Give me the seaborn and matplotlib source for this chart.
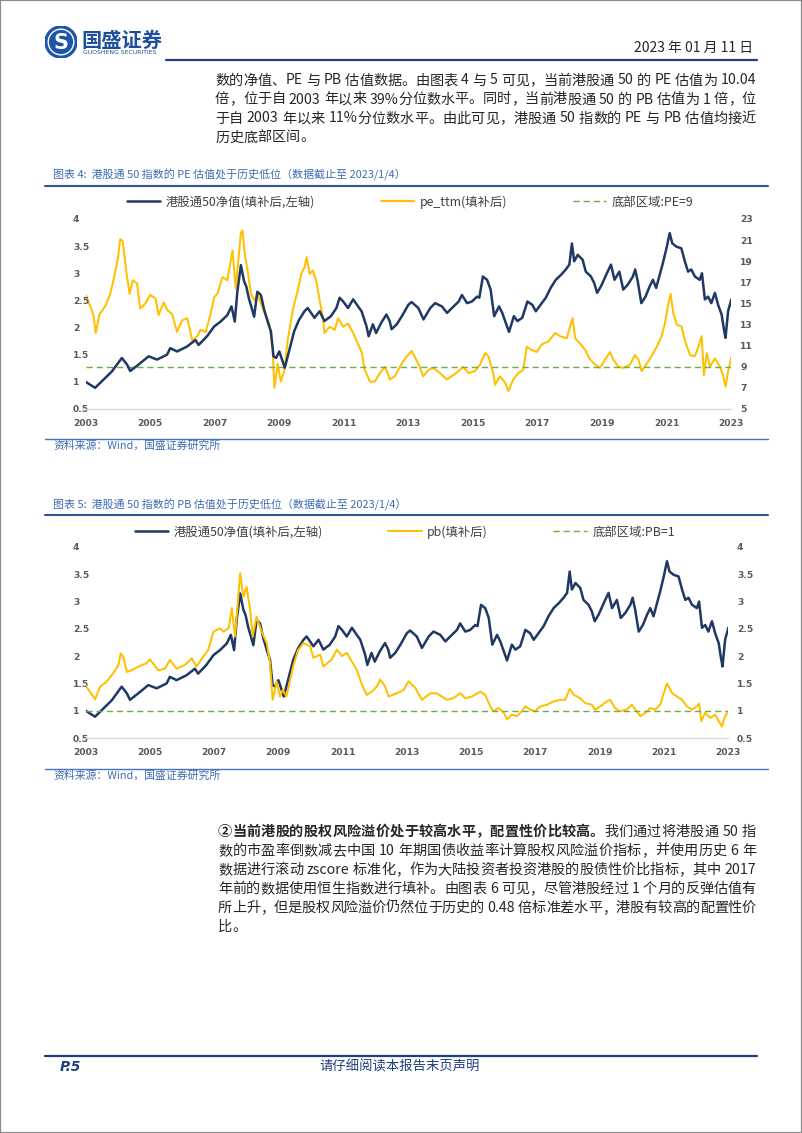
import numpy as np
import pandas as pd
import matplotlib
matplotlib.use('Agg')
import matplotlib.pyplot as plt
import seaborn as sns
from matplotlib.patches import Circle, Rectangle
from matplotlib.lines import Line2D

# 港股通50净值(填补后)  (year, value)
nav = [(2003.0, 1.0), (2003.29, 0.89), (2003.55, 1.04), (2003.81, 1.19), (2004.12, 1.44), (2004.28, 1.32),
       (2004.38, 1.2), (2004.64, 1.32), (2004.95, 1.47), (2005.21, 1.41), (2005.52, 1.5), (2005.62, 1.62),
       (2005.83, 1.56), (2006.14, 1.65), (2006.4, 1.77), (2006.5, 1.68), (2006.76, 1.84), (2006.98, 2.02),
       (2007.18, 2.11), (2007.39, 2.23), (2007.52, 2.39), (2007.62, 2.11), (2007.7, 2.66), (2007.81, 3.15),
       (2007.91, 2.85), (2007.98, 2.75), (2008.06, 2.53), (2008.13, 2.39), (2008.22, 2.2), (2008.32, 2.66),
       (2008.43, 2.6), (2008.53, 2.33), (2008.64, 2.11), (2008.74, 1.93), (2008.82, 1.47), (2008.9, 1.44),
       (2009.0, 1.56), (2009.1, 1.38), (2009.17, 1.26), (2009.3, 1.56), (2009.46, 1.93), (2009.61, 2.14),
       (2009.78, 2.3), (2009.88, 2.36), (2010.09, 2.18), (2010.25, 2.3), (2010.4, 2.12), (2010.6, 2.21),
       (2010.77, 2.36), (2010.87, 2.55), (2010.98, 2.48), (2011.13, 2.36), (2011.29, 2.52), (2011.44, 2.39),
       (2011.55, 2.3), (2011.7, 2.03), (2011.77, 1.84), (2011.9, 2.06), (2012.0, 1.9), (2012.16, 2.09),
       (2012.32, 2.24), (2012.42, 2.12), (2012.48, 1.97), (2012.64, 2.06), (2012.8, 2.21), (2013.0, 2.42),
       (2013.1, 2.47), (2013.31, 2.36), (2013.47, 2.15), (2013.68, 2.36), (2013.83, 2.45), (2014.04, 2.39),
       (2014.2, 2.27), (2014.35, 2.36), (2014.56, 2.48), (2014.66, 2.6), (2014.82, 2.45), (2014.97, 2.48),
       (2015.13, 2.57), (2015.2, 2.55), (2015.31, 2.94), (2015.44, 2.88), (2015.55, 2.7), (2015.66, 2.21),
       (2015.81, 2.39), (2015.91, 2.27), (2016.07, 2.0), (2016.12, 1.92), (2016.27, 2.21), (2016.38, 2.12),
       (2016.53, 2.18), (2016.69, 2.48), (2016.84, 2.42), (2016.95, 2.3), (2017.1, 2.42), (2017.26, 2.55),
       (2017.41, 2.73), (2017.57, 2.88), (2017.73, 2.97), (2017.88, 3.07), (2017.99, 3.16), (2018.07, 3.55),
       (2018.14, 3.22), (2018.25, 3.34), (2018.4, 3.25), (2018.5, 3.03), (2018.66, 2.94), (2018.76, 2.82),
       (2018.85, 2.64), (2018.97, 2.76), (2019.13, 2.97), (2019.28, 3.16), (2019.39, 2.88), (2019.54, 3.03),
       (2019.66, 2.7), (2019.8, 2.79), (2019.96, 2.94), (2020.03, 3.07), (2020.11, 2.85), (2020.22, 2.45),
       (2020.35, 2.57), (2020.48, 2.76), (2020.58, 2.88), (2020.68, 2.73), (2020.79, 2.97), (2020.89, 3.19),
       (2021.0, 3.46), (2021.1, 3.74), (2021.18, 3.55), (2021.31, 3.49), (2021.46, 3.46), (2021.57, 3.22),
       (2021.67, 3.03), (2021.77, 3.07), (2021.88, 2.94), (2022.03, 2.88), (2022.1, 3.0), (2022.19, 2.52),
       (2022.29, 2.57), (2022.39, 2.45), (2022.5, 2.64), (2022.6, 2.42), (2022.71, 2.24), (2022.78, 1.97),
       (2022.83, 1.81), (2022.91, 2.3), (2023.01, 2.52)]

# pe_ttm(填补后)
pe = [(2003.0, 15.8), (2003.13, 14.8), (2003.24, 13.9), (2003.31, 12.2), (2003.43, 14.0), (2003.6, 14.7),
      (2003.76, 15.9), (2003.86, 17.2), (2003.99, 19.1), (2004.07, 21.1), (2004.15, 20.9), (2004.26, 18.0),
      (2004.36, 15.9), (2004.46, 17.2), (2004.59, 16.9), (2004.69, 14.5), (2004.85, 15.0), (2005.0, 15.8),
      (2005.16, 15.5), (2005.26, 13.9), (2005.42, 15.1), (2005.52, 14.4), (2005.68, 14.0), (2005.83, 12.3),
      (2005.99, 13.4), (2006.15, 13.6), (2006.3, 11.5), (2006.46, 11.9), (2006.56, 12.5), (2006.72, 12.3),
      (2006.87, 14.0), (2006.98, 15.6), (2007.08, 15.9), (2007.24, 17.5), (2007.39, 17.2), (2007.55, 20.0),
      (2007.65, 16.4), (2007.81, 21.7), (2007.86, 21.9), (2007.93, 19.7), (2008.02, 18.1), (2008.12, 15.9),
      (2008.22, 15.3), (2008.33, 15.9), (2008.43, 15.0), (2008.56, 14.0), (2008.69, 13.1), (2008.79, 10.9),
      (2008.85, 7.0), (2008.95, 9.3), (2009.05, 7.6), (2009.16, 8.7), (2009.26, 11.5), (2009.42, 14.4),
      (2009.57, 16.2), (2009.68, 17.8), (2009.78, 18.4), (2009.85, 19.4), (2009.94, 17.8), (2010.04, 18.1),
      (2010.14, 17.2), (2010.25, 15.3), (2010.35, 13.7), (2010.4, 12.2), (2010.56, 12.8), (2010.72, 12.5),
      (2010.82, 13.6), (2010.98, 12.8), (2011.13, 13.1), (2011.29, 12.2), (2011.39, 11.5), (2011.55, 10.4),
      (2011.65, 8.7), (2011.81, 7.6), (2011.96, 7.6), (2012.12, 8.4), (2012.28, 9.0), (2012.43, 7.8),
      (2012.58, 8.1), (2012.74, 9.0), (2012.9, 9.8), (2013.1, 10.5), (2013.31, 9.3), (2013.46, 8.1),
      (2013.62, 8.7), (2013.77, 8.9), (2013.98, 8.4), (2014.19, 7.8), (2014.39, 8.2), (2014.6, 8.7),
      (2014.7, 9.0), (2014.86, 8.4), (2015.07, 8.6), (2015.22, 9.2), (2015.38, 10.3), (2015.48, 10.0),
      (2015.63, 8.4), (2015.69, 7.3), (2015.84, 8.1), (2016.0, 7.5), (2016.1, 6.7), (2016.25, 7.8),
      (2016.41, 8.4), (2016.56, 8.7), (2016.67, 10.9), (2016.82, 10.6), (2016.98, 10.4), (2017.13, 11.1),
      (2017.34, 11.4), (2017.55, 12.2), (2017.7, 11.9), (2017.91, 11.7), (2018.01, 12.8), (2018.09, 13.6),
      (2018.17, 11.7), (2018.32, 11.2), (2018.48, 10.6), (2018.63, 9.7), (2018.79, 9.2), (2018.94, 8.9),
      (2019.1, 9.7), (2019.25, 10.4), (2019.35, 9.7), (2019.51, 9.0), (2019.66, 8.9), (2019.87, 9.2),
      (2020.02, 10.1), (2020.13, 9.7), (2020.23, 8.6), (2020.39, 9.3), (2020.54, 10.0), (2020.7, 10.9),
      (2020.85, 11.9), (2020.95, 13.1), (2021.06, 15.0), (2021.13, 15.9), (2021.21, 14.1), (2021.32, 13.0),
      (2021.47, 12.8), (2021.57, 11.5), (2021.73, 10.1), (2021.88, 10.0), (2021.99, 10.9), (2022.09, 11.9),
      (2022.16, 8.2), (2022.25, 10.3), (2022.35, 9.0), (2022.5, 9.8), (2022.66, 9.0), (2022.76, 8.1),
      (2022.83, 7.1), (2022.92, 8.7), (2023.02, 10.0)]

# pb(填补后)
pb = [(2003.0, 1.46), (2003.29, 1.21), (2003.45, 1.44), (2003.65, 1.53), (2003.86, 1.69), (2004.02, 1.84),
      (2004.09, 2.05), (2004.17, 1.99), (2004.28, 1.71), (2004.43, 1.74), (2004.64, 1.81), (2004.9, 1.87),
      (2005.0, 1.94), (2005.26, 1.74), (2005.47, 1.77), (2005.62, 1.93), (2005.83, 1.77), (2006.09, 1.84),
      (2006.3, 1.96), (2006.45, 1.81), (2006.66, 1.99), (2006.81, 2.11), (2006.98, 2.45), (2007.18, 2.51),
      (2007.29, 2.45), (2007.45, 2.51), (2007.55, 2.88), (2007.65, 2.36), (2007.81, 3.52), (2007.91, 3.09),
      (2008.01, 3.27), (2008.12, 2.85), (2008.2, 2.36), (2008.32, 2.72), (2008.48, 2.45), (2008.64, 2.23),
      (2008.74, 1.87), (2008.82, 1.2), (2008.95, 1.53), (2009.05, 1.26), (2009.14, 1.38), (2009.25, 1.26),
      (2009.46, 1.81), (2009.61, 2.11), (2009.78, 2.24), (2009.99, 2.18), (2010.09, 1.97), (2010.3, 2.03),
      (2010.4, 1.81), (2010.66, 1.94), (2010.82, 2.12), (2010.98, 2.0), (2011.13, 2.06), (2011.29, 1.9),
      (2011.44, 1.75), (2011.6, 1.48), (2011.75, 1.29), (2011.91, 1.35), (2012.07, 1.45), (2012.17, 1.57),
      (2012.32, 1.45), (2012.43, 1.26), (2012.69, 1.32), (2012.9, 1.38), (2013.05, 1.54), (2013.26, 1.42),
      (2013.47, 1.2), (2013.73, 1.32), (2013.93, 1.32), (2014.25, 1.2), (2014.45, 1.23), (2014.66, 1.32),
      (2014.82, 1.23), (2015.03, 1.26), (2015.29, 1.35), (2015.44, 1.29), (2015.6, 1.08), (2015.7, 0.99),
      (2015.86, 1.05), (2016.02, 0.96), (2016.12, 0.84), (2016.27, 0.93), (2016.43, 0.9), (2016.58, 0.99),
      (2016.69, 1.08), (2016.84, 1.02), (2017.0, 0.99), (2017.15, 1.08), (2017.36, 1.11), (2017.57, 1.17),
      (2017.78, 1.2), (2017.93, 1.2), (2018.07, 1.4), (2018.2, 1.29), (2018.4, 1.23), (2018.55, 1.14),
      (2018.76, 1.11), (2018.86, 1.02), (2019.02, 1.08), (2019.23, 1.17), (2019.33, 1.2), (2019.48, 1.05),
      (2019.64, 0.99), (2019.85, 1.02), (2020.0, 1.11), (2020.16, 0.99), (2020.27, 0.9), (2020.42, 0.96),
      (2020.58, 1.05), (2020.73, 1.02), (2020.89, 1.11), (2021.0, 1.32), (2021.1, 1.5), (2021.26, 1.32),
      (2021.41, 1.26), (2021.57, 1.2), (2021.72, 1.08), (2021.88, 1.02), (2022.03, 1.08), (2022.1, 1.13),
      (2022.17, 0.81), (2022.29, 0.96), (2022.45, 0.87), (2022.6, 0.93), (2022.71, 0.81), (2022.81, 0.71),
      (2022.91, 0.9), (2023.01, 0.99)]

years = list(range(2003, 2024, 2))
left_ticks = [0.5, 1, 1.5, 2, 2.5, 3, 3.5, 4]
pe_ticks = [5, 7, 9, 11, 13, 15, 17, 19, 21, 23]
pe_floor = 9
pb_floor = 1

title4 = '图表 4:  港股通 50 指数的 PE 估值处于历史低位（数据截止至 2023/1/4）'
title5 = '图表 5:  港股通 50 指数的 PB 估值处于历史低位（数据截止至 2023/1/4）'
legend4 = ['港股通50净值(填补后,左轴)', 'pe_ttm(填补后)', '底部区域:PE=9']
legend5 = ['港股通50净值(填补后,左轴)', 'pb(填补后)', '底部区域:PB=1']
source = '资料来源：Wind，国盛证券研究所'

para1 = ['数的净值、PE 与 PB 估值数据。由图表 4 与 5 可见，当前港股通 50 的 PE 估值为 10.04',
         '倍，位于自 2003 年以来 39%分位数水平。同时，当前港股通 50 的 PB 估值为 1 倍，位',
         '于自 2003 年以来 11%分位数水平。由此可见，港股通 50 指数的 PE 与 PB 估值均接近',
         '历史底部区间。']
para2_bold = '②当前港股的股权风险溢价处于较高水平，配置性价比较高。'
para2 = ['我们通过将港股通 50 指',
         '数的市盈率倒数减去中国 10 年期国债收益率计算股权风险溢价指标，并使用历史 6 年',
         '数据进行滚动 zscore 标准化，作为大陆投资者投资港股的股债性价比指标，其中 2017',
         '年前的数据使用恒生指数进行填补。由图表 6 可见，尽管港股经过 1 个月的反弹估值有',
         '所上升，但是股权风险溢价仍然位于历史的 0.48 倍标准差水平，港股有较高的配置性价',
         '比。']

NAVY = '#1f3864'
GOLD = '#ffc000'
GREEN = '#70ad47'
BLUE = '#1f3f80'
LBLUE = '#3d6bb3'

sns.set_style('white')
plt.rcParams['font.family'] = ['Noto Sans CJK SC', 'DejaVu Sans']

W, H = 802, 1133
fig = plt.figure(figsize=(W / 100, H / 100), dpi=100)


def fx(x):
    return x / W


def fy(y):
    return 1 - y / H


def hline(x0, x1, y, color, lw):
    fig.add_artist(Line2D([fx(x0), fx(x1)], [fy(y), fy(y)], transform=fig.transFigure, color=color, lw=lw))


def is_cjk(s):
    return ord(s[0]) > 0x2E7F


def tokens_of(s):
    toks, buf = [], ''
    for ch in s:
        if ch == ' ' or is_cjk(ch):
            if buf:
                toks.append(buf)
                buf = ''
            toks.append(ch)
        else:
            buf += ch
    if buf:
        toks.append(buf)
    return toks


def text_line(segments, x0, y, size, x1=None, color='#262626'):
    # lays out one line; stretches it to x1 when given (justified text)
    r = fig.canvas.get_renderer()
    em = size * 100 / 72
    items = []
    for s, weight in segments:
        for tok in tokens_of(s):
            if tok == ' ':
                items.append((None, em * 0.25))
                continue
            t = fig.text(0, fy(y), tok, fontsize=size, weight=weight, color=color, va='center')
            w = em if is_cjk(tok) else t.get_window_extent(renderer=r).width
            items.append((t, w))
    gap = 0.0
    if x1 is not None and len(items) > 1:
        gap = (x1 - x0 - sum(w for _, w in items)) / (len(items) - 1)
    x = x0
    for t, w in items:
        if t is not None:
            t.set_x(fx(x))
        x += w + gap


def draw_chart(x0, x1, ytop, ybot, rseries, rticks, rlabels, floor, labels, leg_x, leg_y, nav_top):
    ax = fig.add_axes([fx(x0), fy(ybot), (x1 - x0) / W, (ybot - ytop) / H])
    ax2 = ax.twinx()
    d1 = pd.DataFrame(nav, columns=['year', 'value'])
    d2 = pd.DataFrame(rseries, columns=['year', 'value'])
    sns.lineplot(data=d1, x='year', y='value', ax=ax, color=NAVY, lw=1.8, label=labels[0])
    sns.lineplot(data=d2, x='year', y='value', ax=ax2, color=GOLD, lw=1.45, label=labels[1])
    ax2.axhline(floor, color=GREEN, lw=1.0, ls=(0, (4.5, 2.8)), label=labels[2])
    for a in (ax, ax2):
        if a.get_legend() is not None:
            a.get_legend().remove()
        a.set_xlabel('')
        a.set_ylabel('')
        for s in a.spines.values():
            s.set_visible(False)
    ax.spines['bottom'].set_visible(True)
    ax.spines['bottom'].set_color('#d9d9d9')
    ax.spines['bottom'].set_linewidth(1.0)
    if nav_top:
        ax.set_zorder(ax2.get_zorder() + 1)
        ax.patch.set_visible(False)
    ax.set_xlim(2003, 2023)
    ax.set_ylim(0.5, 4)
    ax2.set_ylim(rticks[0], rticks[-1])
    tick_font = dict(family='DejaVu Sans', weight='bold', size=6.6, color='#595959')
    ax.set_xticks(years)
    ax.set_xticklabels([str(y) for y in years], fontdict=tick_font)
    ax.set_yticks(left_ticks)
    ax.set_yticklabels(['%g' % v for v in left_ticks], fontdict=tick_font, ha='left')
    ax2.set_yticks(rticks)
    ax2.set_yticklabels(rlabels, fontdict=tick_font)
    ax.tick_params(axis='x', length=3, color='#d9d9d9', width=0.8, pad=4)
    ax.tick_params(axis='y', length=0, pad=9.2)
    ax2.tick_params(axis='y', length=0, pad=6.5)
    handles = ax.get_legend_handles_labels()[0] + ax2.get_legend_handles_labels()[0]
    fig.legend(handles, labels, loc='center left', bbox_to_anchor=(fx(leg_x), fy(leg_y)),
               bbox_transform=fig.transFigure, ncol=3, frameon=False, fontsize=8.9,
               labelcolor='#404040', handlelength=2.7, handletextpad=0.45,
               columnspacing=5.3, borderpad=0, borderaxespad=0)
    return ax


# page frame
fig.add_artist(Rectangle((0, 0), 1, 1, transform=fig.transFigure, fill=False, ec='#8c8c8c', lw=1.6))

# header: logo, company name, date
lax = fig.add_axes([fx(45), fy(58), 32 / W, 32 / H])
lax.set_xlim(-1, 1)
lax.set_ylim(-1, 1)
lax.set_aspect('equal')
lax.axis('off')
lax.add_patch(Circle((0, 0), 1, color='#1d56a8'))
lax.add_patch(Circle((0, 0), 0.8, fill=False, ec='white', lw=1.0))
lax.text(0, -0.05, 'S', color='white', fontsize=15, weight='bold', ha='center', va='center', family='DejaVu Sans')
fig.text(fx(81), fy(40), '国盛证券', fontsize=14.6, weight='bold', color='#1d4f9c', va='center')
fig.text(fx(83), fy(53), 'GUOSHENG SECURITIES', fontsize=4.4, color='#1d4f9c', va='center',
         family='DejaVu Sans')
fig.text(fx(753), fy(48), '2023 年 01 月 11 日', fontsize=10, color='#262626', ha='right', va='center')
hline(166, 757, 60, BLUE, 1.6)

# first paragraph
for i, line in enumerate(para1):
    last = i == len(para1) - 1
    text_line([(line, 'normal')], 215, 80.5 + i * 19, 10.2, None if last else 756)

# chart 4
fig.text(fx(53), fy(175), title4, fontsize=7.9, color=LBLUE, va='center')
hline(45, 768, 186, '#2f5597', 1.5)
draw_chart(85.7, 731, 219, 409, pe, pe_ticks, [str(v) for v in pe_ticks], pe_floor, legend4, 127, 202, True)
hline(45, 768, 439, '#4472c4', 1.0)
fig.text(fx(53), fy(446), source, fontsize=7.8, color=LBLUE, va='center')

# chart 5
fig.text(fx(53), fy(505), title5, fontsize=7.9, color=LBLUE, va='center')
hline(45, 768, 515, '#2f5597', 1.5)
draw_chart(85.7, 728, 547, 738, pb, left_ticks, ['%g' % v for v in left_ticks], pb_floor, legend5, 134.5, 532, False)
hline(45, 768, 769, '#4472c4', 1.0)
fig.text(fx(53), fy(776), source, fontsize=7.8, color=LBLUE, va='center')

# second paragraph
text_line([(para2_bold, 'bold'), (para2[0], 'normal')], 218, 832, 10.2, 756)
for i, line in enumerate(para2[1:]):
    last = i == len(para2) - 2
    text_line([(line, 'normal')], 218, 851 + i * 18.9, 10.2, None if last else 756)

# footer
hline(45, 757, 1056, BLUE, 1.6)
fig.text(fx(60), fy(1067), 'P.5', fontsize=10, weight='bold', style='italic', color=BLUE, va='center',
         family='DejaVu Sans')
fig.text(fx(400), fy(1067), '请仔细阅读本报告末页声明', fontsize=9.6, color=BLUE, ha='center', va='center')

fig.savefig('out.png', dpi=100)
